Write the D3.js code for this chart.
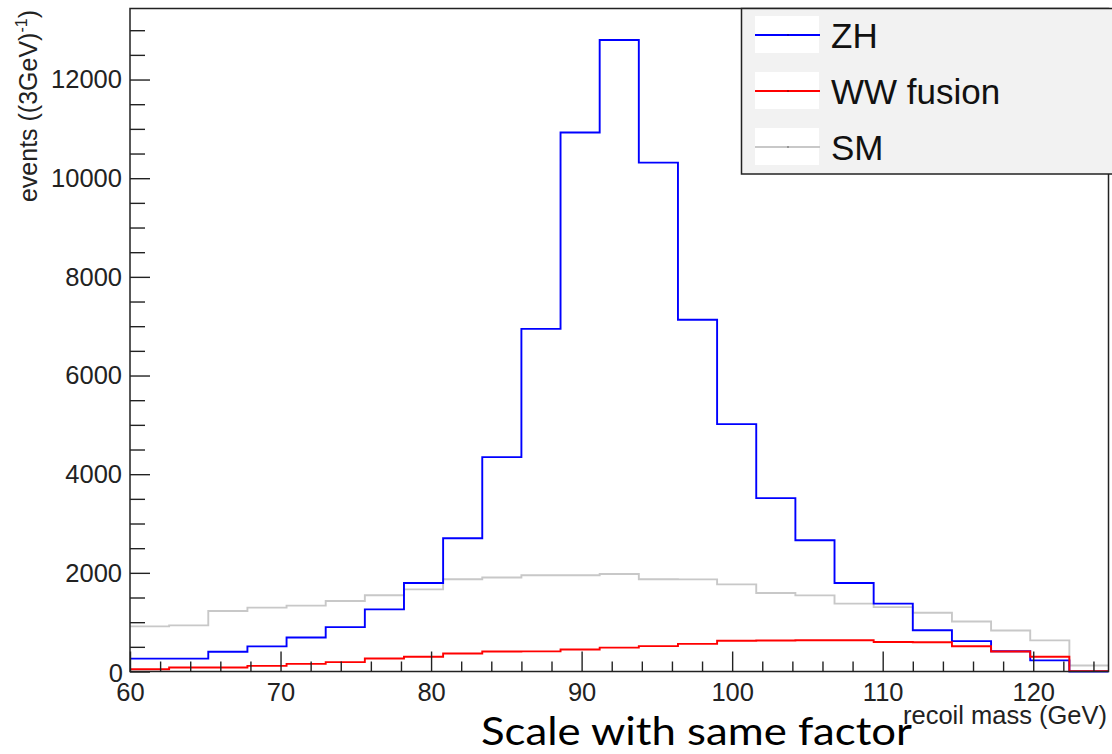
<!DOCTYPE html>
<html>
<head>
<meta charset="utf-8">
<script src="https://cdn.jsdelivr.net/npm/d3@7"></script>
<style>
  body { margin: 0; background: #fff; }
  svg { display: block; }
</style>
</head>
<body>
<div id="chart"></div>
<script>
// bin lower edges (GeV), last entry is the upper edge of the last bin
var binEdges = [60, 62.6, 65.2, 67.8, 70.4, 73, 75.6, 78.2, 80.8, 83.4, 86, 88.6, 91.2,
                93.8, 96.4, 99, 101.6, 104.2, 106.8, 109.4, 112, 114.6, 117.2, 119.8, 122.4, 125];

var zh = [260, 262, 400, 510, 690, 900, 1260, 1795, 2700, 4345, 6945, 10925, 12800,
          10315, 7130, 5015, 3515, 2660, 1795, 1375, 835, 615, 410, 225, 0];
var ww = [45, 80, 82, 115, 155, 190, 264, 300, 365, 405, 408, 447, 485,
          515, 560, 622, 628, 632, 632, 598, 592, 512, 405, 298, 8];
var sm = [915, 935, 1225, 1295, 1335, 1430, 1545, 1665, 1870, 1905, 1950, 1950, 1978,
          1870, 1868, 1766, 1590, 1543, 1375, 1306, 1192, 1015, 832, 630, 122];

var xTicks = [60, 70, 80, 90, 100, 110, 120];
var yTicks = [0, 2000, 4000, 6000, 8000, 10000, 12000];

var width = 1112;
var height = 754;
var frameL = 130, frameR = 1108.5, frameT = 8.5, frameB = 671.5;

var svg = d3.select('#chart')
            .append('svg')
            .attr('width', width)
            .attr('height', height);

var x = d3.scaleLinear().domain([60, 125]).range([frameL, frameR]);
var y = d3.scaleLinear().domain([0, 13440]).range([frameB, frameT]);

// histograms
var line = d3.line()
             .x(function(d){ return x(d[0]); })
             .y(function(d){ return y(d[1]); })
             .curve(d3.curveStepAfter);

function steps(vals) {
  var pts = vals.map(function(v, i){ return [binEdges[i], v]; });
  pts.push([binEdges[vals.length], vals[vals.length - 1]]);
  return pts;
}

var series = [
  { name: 'SM', vals: sm, color: '#c8c8c8' },
  { name: 'ZH', vals: zh, color: '#0000ff' },
  { name: 'WW fusion', vals: ww, color: '#ff0000' }
];

svg.selectAll('.hist')
   .data(series)
   .enter()
   .append('path')
   .attr('class', 'hist')
   .attr('d', function(d){ return line(steps(d.vals)); })
   .attr('fill', 'none')
   .attr('stroke', function(d){ return d.color; })
   .attr('stroke-width', 1.9);

// frame
svg.append('rect')
   .attr('x', frameL).attr('y', frameT)
   .attr('width', frameR - frameL).attr('height', frameB - frameT)
   .attr('fill', 'none').attr('stroke', '#222').attr('stroke-width', 1.5);

// y axis ticks
var yAxis = d3.axisLeft(y).tickValues(d3.range(0, 13500, 500))
              .tickFormat(function(d){ return yTicks.indexOf(d) >= 0 ? d : ''; })
              .tickSize(0).tickPadding(8);
var gy = svg.append('g').attr('transform', 'translate(' + frameL + ',0)').call(yAxis);
gy.select('.domain').remove();
gy.selectAll('.tick line').remove();
gy.selectAll('.tick').append('line')
  .attr('x1', 0)
  .attr('x2', function(d){ return yTicks.indexOf(d) >= 0 ? 20 : 15; })
  .attr('stroke', '#222').attr('stroke-width', 1.4);
gy.selectAll('text')
  .attr('font-family', 'Liberation Sans, Arial, sans-serif')
  .attr('font-size', 25.5).attr('fill', '#222');
gy.selectAll('.tick').filter(function(d){ return d === 0; }).select('text')
  .attr('x', -7).attr('dy', '0.4em');

// x axis ticks
var xAxis = d3.axisBottom(x).tickValues(d3.range(60, 125, 2))
              .tickFormat(function(d){ return xTicks.indexOf(d) >= 0 ? d : ''; })
              .tickSize(0).tickPadding(11);
var gx = svg.append('g').attr('transform', 'translate(0,' + frameB + ')').call(xAxis);
gx.select('.domain').remove();
gx.selectAll('.tick line').remove();
gx.selectAll('.tick').append('line')
  .attr('y1', 0)
  .attr('y2', function(d){ return xTicks.indexOf(d) >= 0 ? -20 : -10; })
  .attr('stroke', '#222').attr('stroke-width', 1.4);
gx.selectAll('text')
  .attr('font-family', 'Liberation Sans, Arial, sans-serif')
  .attr('font-size', 25.5).attr('fill', '#222');

// axis titles
var yLabel = svg.append('text')
   .attr('transform', 'translate(37,10) rotate(-90)')
   .attr('text-anchor', 'end')
   .attr('font-family', 'Liberation Sans, Arial, sans-serif')
   .attr('font-size', 25).attr('fill', '#222');
yLabel.append('tspan').text('events ((3GeV)');
yLabel.append('tspan').attr('font-size', 16).attr('dy', -10).text('-1');
yLabel.append('tspan').attr('dy', 10).text(')');

svg.append('text')
   .attr('x', 1107).attr('y', 724)
   .attr('text-anchor', 'end')
   .attr('font-family', 'Liberation Sans, Arial, sans-serif')
   .attr('font-size', 25.5).attr('fill', '#222')
   .text('recoil mass (GeV)');

// legend
var legendOrder = [
  { name: 'ZH', color: '#0000ff' },
  { name: 'WW fusion', color: '#ff0000' },
  { name: 'SM', color: '#c8c8c8' }
];
svg.append('rect')
   .attr('x', 741.5).attr('y', 8.5)
   .attr('width', 380).attr('height', 165.5)
   .attr('fill', '#f2f2f2').attr('stroke', '#222').attr('stroke-width', 1.5);

var entries = svg.selectAll('.entry')
   .data(legendOrder)
   .enter()
   .append('g')
   .attr('transform', function(d, i){ return 'translate(0,' + (35 + i * 56) + ')'; });
entries.append('rect')
   .attr('x', 755).attr('y', -19).attr('width', 64).attr('height', 37)
   .attr('fill', '#fff');
entries.append('line')
   .attr('x1', 755).attr('x2', 820).attr('y1', 0).attr('y2', 0)
   .attr('stroke', function(d){ return d.color; }).attr('stroke-width', 1.8);
entries.append('rect')
   .attr('x', 787.5).attr('y', -0.5).attr('width', 1).attr('height', 1)
   .attr('fill', '#000');
entries.append('text')
   .attr('x', 831).attr('y', 13)
   .attr('font-family', 'Liberation Sans, Arial, sans-serif')
   .attr('font-size', 35).attr('fill', '#111')
   .text(function(d){ return d.name; });

// slide caption
svg.append('text')
   .attr('x', 481).attr('y', 745)
   .attr('font-family', 'Lato, Noto Sans, sans-serif')
   .attr('font-size', 39).attr('fill', '#000')
   .attr('textLength', 431).attr('lengthAdjust', 'spacingAndGlyphs')
   .text('Scale with same factor');
</script>
</body>
</html>
